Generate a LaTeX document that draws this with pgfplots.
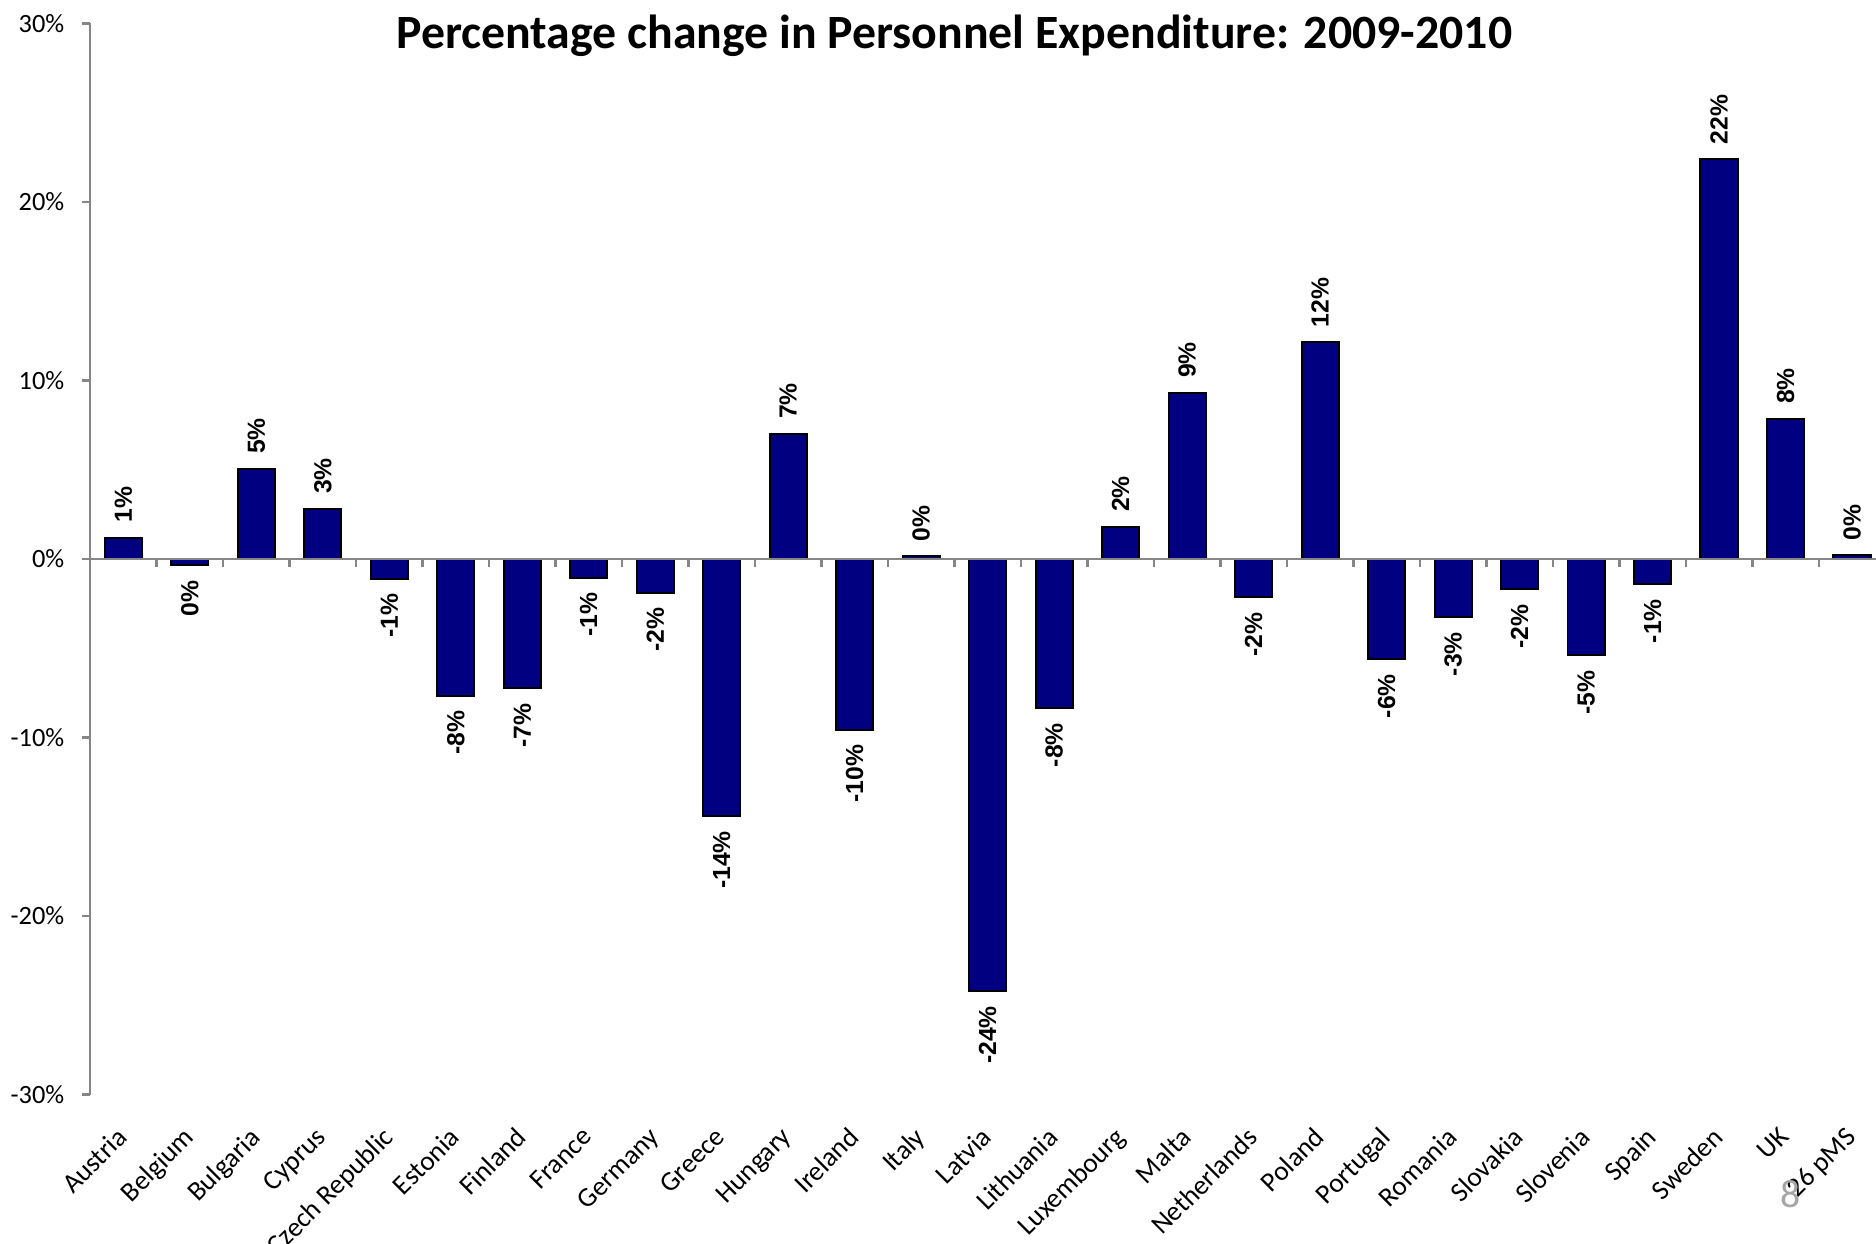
\documentclass[border=0pt]{standalone}
\usepackage{pgfplots}
\pgfplotsset{compat=1.18}
\usepackage{fontspec}
\setmainfont{Carlito}
\newfontfamily\arialfont{Liberation Sans}
\definecolor{barblue}{HTML}{000080}
\definecolor{axisgray}{HTML}{868686}

\begin{document}
\begin{tikzpicture}
\begin{axis}[
  at={(0.96cm,1.59cm)}, anchor=south west,
  scale only axis,
  width=19.04cm, height=11.42cm,
  xmin=-0.5, xmax=26.36,
  ymin=-30, ymax=30,
  axis y line*=left,
  axis x line*=bottom,
  x axis line style={draw=none},
  xtick={0,...,26},
  xticklabels={Austria,Belgium,Bulgaria,Cyprus,Czech Republic,Estonia,Finland,France,Germany,Greece,Hungary,Ireland,Italy,Latvia,Lithuania,Luxembourg,Malta,Netherlands,Poland,Portugal,Romania,Slovakia,Slovenia,Spain,Sweden,UK,26 pMS},
  x tick label style={rotate=45, anchor=north east, font=\fontsize{8.3}{10}\selectfont, inner sep=1pt, xshift=-0.19cm, yshift=-0.07cm},
  major x tick style={draw=none},
  ytick={-30,-20,...,30},
  yticklabels={-30\%,-20\%,-10\%,0\%,10\%,20\%,30\%},
  y tick label style={font=\fontsize{8}{10}\selectfont, xshift=-0.06cm},
  y axis line style={axisgray, line width=0.8pt},
  y tick style={axisgray, line width=0.8pt},
  tick align=outside,
  major tick length=0.09cm,
  ybar,
  bar width=0.56,
  clip=false,
  point meta=explicit symbolic,
  nodes near coords,
]
\addplot[bar shift=0pt, fill=barblue, draw=black, line width=0.6pt,
  nodes near coords style={rotate=90, anchor=west, inner xsep=0.15cm, inner ysep=0pt,
    font=\arialfont\bfseries\fontsize{7.5}{9}\selectfont, text=black}]
  coordinates {
    (0,1.2) [1\%]
    (2,5.05) [5\%]
    (3,2.8) [3\%]
    (10,7.0) [7\%]
    (12,0.15) [0\%]
    (15,1.8) [2\%]
    (16,9.3) [9\%]
    (18,12.15) [12\%]
    (24,22.4) [22\%]
    (25,7.85) [8\%]
    (26,0.2) [0\%]
  };
\addplot[bar shift=0pt, fill=barblue, draw=black, line width=0.6pt,
  nodes near coords style={rotate=90, anchor=east, inner xsep=0.15cm, inner ysep=0pt,
    font=\arialfont\bfseries\fontsize{7.5}{9}\selectfont, text=black}]
  coordinates {
    (1,-0.35) [0\%]
    (4,-1.1) [-1\%]
    (5,-7.65) [-8\%]
    (6,-7.25) [-7\%]
    (7,-1.05) [-1\%]
    (8,-1.9) [-2\%]
    (9,-14.4) [-14\%]
    (11,-9.55) [-10\%]
    (13,-24.2) [-24\%]
    (14,-8.35) [-8\%]
    (17,-2.15) [-2\%]
    (19,-5.6) [-6\%]
    (20,-3.25) [-3\%]
    (21,-1.7) [-2\%]
    (22,-5.4) [-5\%]
    (23,-1.4) [-1\%]
  };
% zero line with its ticks between the categories
\draw[axisgray, line width=0.8pt] (axis cs:-0.5,0) -- (axis cs:26.36,0);
\pgfplotsinvokeforeach{0.5,1.5,...,25.5}{
  \draw[axisgray, line width=0.8pt] (axis cs:#1,0) -- ++(0pt,-0.09cm);
}
\node[font=\bfseries\fontsize{14.5}{17}\selectfont, text=black]
  at (rel axis cs:0.484,1) [yshift=-0.13cm] {Percentage change in Personnel Expenditure: 2009-2010};
\node[font=\fontsize{12}{14}\selectfont, text=gray!70]
  at (rel axis cs:0.952,0) [yshift=-1.06cm] {8};
\end{axis}
\pgfresetboundingbox
\path (0,0) rectangle (20cm,13.26cm);
\end{tikzpicture}
\end{document}
